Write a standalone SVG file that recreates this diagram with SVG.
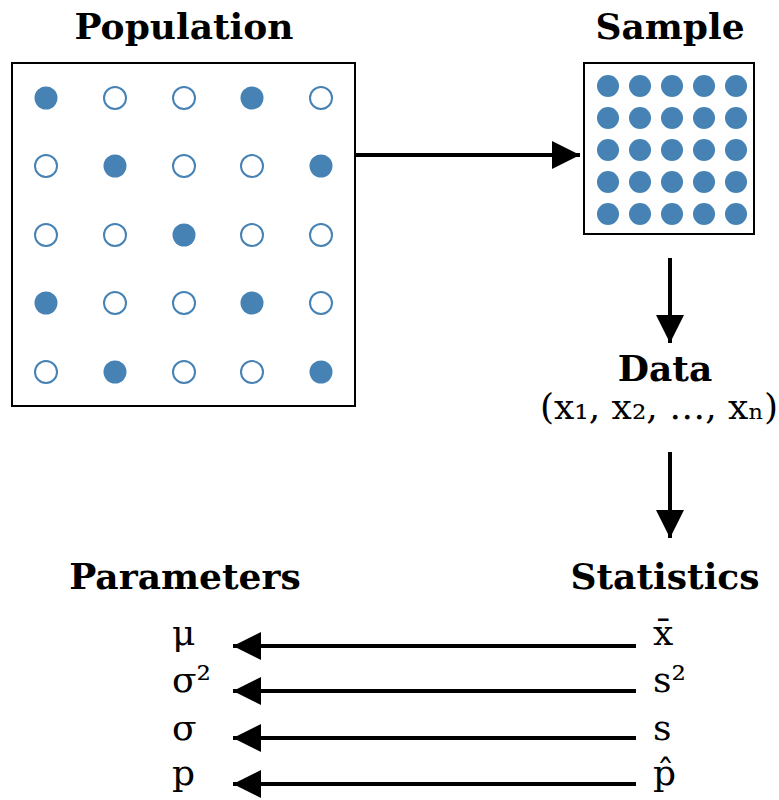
<svg xmlns="http://www.w3.org/2000/svg" width="779" height="800" viewBox="0 0 779 800">
  <style>
    .title { font-family: "DejaVu Serif", serif; font-weight: bold; font-size: 36px; fill: #000; text-anchor: middle; }
    .sym { font-family: "DejaVu Serif", serif; font-size: 36px; fill: #000; }
    .box { fill: #fff; stroke: #000; stroke-width: 2; }
    .full { fill: #4682b4; }
    .empty { fill: #fff; stroke: #4682b4; stroke-width: 2; }
    .link { stroke: #000; stroke-width: 4; fill: none; }
  </style>
  <defs>
    <marker id="head" viewBox="0 0 10 10" refX="10" refY="5" markerWidth="7" markerHeight="7" markerUnits="strokeWidth" orient="auto">
      <path d="M0,0 L10,5 L0,10 z" fill="#000"/>
    </marker>
  </defs>
  <rect width="779" height="800" fill="#fff"/>

  <g id="population">
    <text class="title" x="184" y="39">Population</text>
    <rect class="box" x="12" y="63" width="343" height="343"/>
    <circle class="full" cx="46" cy="98" r="11.5"/>
    <circle class="empty" cx="115" cy="98" r="11"/>
    <circle class="empty" cx="184" cy="98" r="11"/>
    <circle class="full" cx="252" cy="98" r="11.5"/>
    <circle class="empty" cx="321" cy="98" r="11"/>
    <circle class="empty" cx="46" cy="166" r="11"/>
    <circle class="full" cx="115" cy="166" r="11.5"/>
    <circle class="empty" cx="184" cy="166" r="11"/>
    <circle class="empty" cx="252" cy="166" r="11"/>
    <circle class="full" cx="321" cy="166" r="11.5"/>
    <circle class="empty" cx="46" cy="235" r="11"/>
    <circle class="empty" cx="115" cy="235" r="11"/>
    <circle class="full" cx="184" cy="235" r="11.5"/>
    <circle class="empty" cx="252" cy="235" r="11"/>
    <circle class="empty" cx="321" cy="235" r="11"/>
    <circle class="full" cx="46" cy="303" r="11.5"/>
    <circle class="empty" cx="115" cy="303" r="11"/>
    <circle class="empty" cx="184" cy="303" r="11"/>
    <circle class="full" cx="252" cy="303" r="11.5"/>
    <circle class="empty" cx="321" cy="303" r="11"/>
    <circle class="empty" cx="46" cy="372" r="11"/>
    <circle class="full" cx="115" cy="372" r="11.5"/>
    <circle class="empty" cx="184" cy="372" r="11"/>
    <circle class="empty" cx="252" cy="372" r="11"/>
    <circle class="full" cx="321" cy="372" r="11.5"/>
  </g>

  <g id="sample">
    <text class="title" x="670" y="39">Sample</text>
    <rect class="box" x="584" y="63" width="170" height="171"/>
    <g class="full">
      <circle cx="608" cy="86" r="11"/><circle cx="640" cy="86" r="11"/><circle cx="672" cy="86" r="11"/><circle cx="704" cy="86" r="11"/><circle cx="736" cy="86" r="11"/>
      <circle cx="608" cy="118" r="11"/><circle cx="640" cy="118" r="11"/><circle cx="672" cy="118" r="11"/><circle cx="704" cy="118" r="11"/><circle cx="736" cy="118" r="11"/>
      <circle cx="608" cy="150" r="11"/><circle cx="640" cy="150" r="11"/><circle cx="672" cy="150" r="11"/><circle cx="704" cy="150" r="11"/><circle cx="736" cy="150" r="11"/>
      <circle cx="608" cy="182" r="11"/><circle cx="640" cy="182" r="11"/><circle cx="672" cy="182" r="11"/><circle cx="704" cy="182" r="11"/><circle cx="736" cy="182" r="11"/>
      <circle cx="608" cy="214" r="11"/><circle cx="640" cy="214" r="11"/><circle cx="672" cy="214" r="11"/><circle cx="704" cy="214" r="11"/><circle cx="736" cy="214" r="11"/>
    </g>
  </g>

  <g id="data">
    <text class="title" x="665" y="381">Data</text>
    <text class="sym" x="659" y="419" text-anchor="middle">(x₁, x₂, …, xₙ)</text>
  </g>

  <g id="parameters">
    <text class="title" x="185" y="589">Parameters</text>
    <text class="sym" x="172" y="645">μ</text>
    <text class="sym" x="172" y="692">σ²</text>
    <text class="sym" x="172" y="740">σ</text>
    <text class="sym" x="172" y="785">p</text>
  </g>

  <g id="statistics">
    <text class="title" x="665" y="589">Statistics</text>
    <text class="sym" x="653" y="645">x̄</text>
    <text class="sym" x="653" y="692">s²</text>
    <text class="sym" x="653" y="740">s</text>
    <text class="sym" x="653" y="785">p̂</text>
  </g>

  <g id="connectors">
    <line class="link" x1="355" y1="155" x2="580" y2="155" marker-end="url(#head)"/>
    <line class="link" x1="670" y1="258" x2="670" y2="343" marker-end="url(#head)"/>
    <line class="link" x1="670" y1="452" x2="670" y2="538" marker-end="url(#head)"/>
    <line class="link" x1="636" y1="646" x2="233" y2="646" marker-end="url(#head)"/>
    <line class="link" x1="636" y1="691" x2="233" y2="691" marker-end="url(#head)"/>
    <line class="link" x1="636" y1="738" x2="233" y2="738" marker-end="url(#head)"/>
    <line class="link" x1="636" y1="784" x2="233" y2="784" marker-end="url(#head)"/>
  </g>
</svg>
